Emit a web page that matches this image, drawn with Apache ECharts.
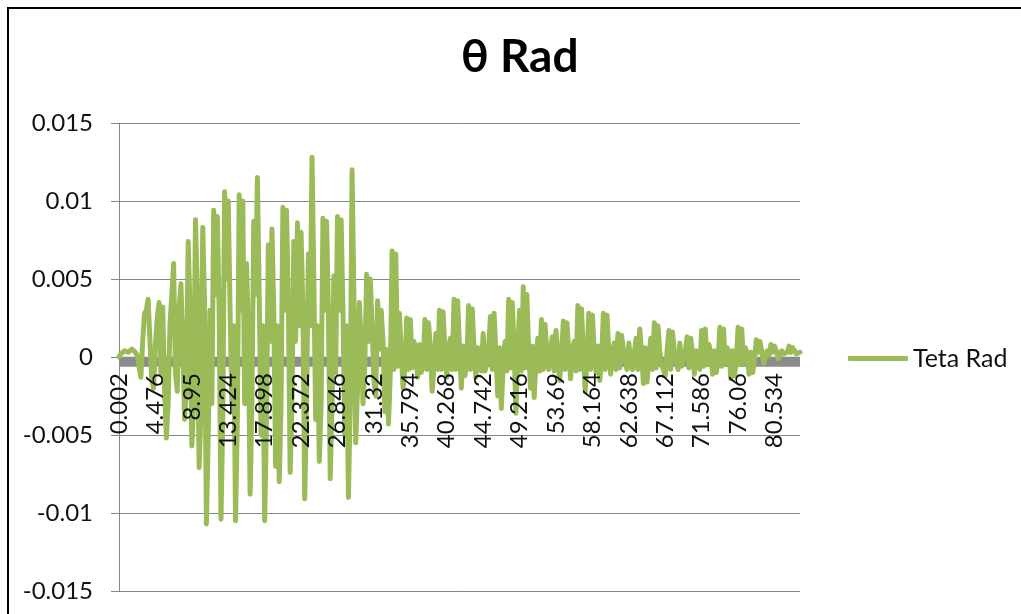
<!DOCTYPE html>
<html>
<head>
<meta charset="utf-8">
<title>θ Rad</title>
<script src="https://cdn.jsdelivr.net/npm/echarts@6/dist/echarts.min.js"></script>
<style>
  html, body { margin: 0; padding: 0; background: #fff; }
  #chart { width: 1021px; height: 614px; }
</style>
</head>
<body>
<div id="chart"></div>
<script>
// Sampling of the time axis (s): first sample and spacing between samples
const timeStart = 0.002;
const timeStep = 0.2237;

// Pitch angle θ in radians, one value per sample
const thetaRad = [
  0.0000, 0.0002, 0.0003, 0.0004, 0.0004, 0.0003, 0.0003, 0.0005, 0.0005, 0.0003,
  0.0001, -0.0006, -0.0013, 0.0010, 0.0028, 0.0030, 0.0037, 0.0010, -0.0015, -0.0020,
  0.0008, 0.0025, 0.0035, -0.0010, 0.0032, -0.0020, -0.0052, -0.0030, 0.0021, 0.0040,
  0.0060, -0.0010, -0.0022, 0.0030, 0.0047, 0.0010, -0.0040, -0.0020, 0.0074, 0.0030,
  -0.0057, -0.0030, 0.0088, 0.0040, -0.0071, -0.0035, 0.0083, 0.0035, -0.0107, -0.0050,
  0.0030, -0.0030, 0.0094, 0.0040, 0.0090, 0.0030, -0.0104, -0.0040, 0.0106, 0.0050,
  0.0100, 0.0030, -0.0030, 0.0020, -0.0105, -0.0040, 0.0104, 0.0030, 0.0100, -0.0030,
  0.0060, 0.0020, -0.0088, -0.0030, 0.0087, 0.0040, 0.0115, 0.0040, -0.0050, 0.0020,
  -0.0105, -0.0040, 0.0072, 0.0010, 0.0082, 0.0030, -0.0070, 0.0020, -0.0080, -0.0030,
  0.0096, 0.0030, 0.0094, 0.0035, -0.0074, -0.0030, 0.0074, 0.0010, 0.0086, 0.0020,
  0.0080, 0.0030, -0.0091, -0.0030, 0.0066, 0.0020, 0.0128, 0.0050, -0.0040, 0.0020,
  -0.0067, -0.0030, 0.0089, 0.0030, 0.0087, 0.0030, -0.0078, -0.0030, 0.0052, -0.0010,
  0.0090, 0.0030, 0.0088, 0.0030, -0.0050, 0.0020, -0.0090, -0.0030, 0.0120, 0.0040,
  -0.0055, -0.0020, 0.0035, 0.0010, -0.0030, -0.0005, 0.0053, 0.0010, 0.0050, 0.0020,
  -0.0015, -0.0025, 0.0036, 0.0005, 0.0030, 0.0010, -0.0035, 0.0005, -0.0043, -0.0010,
  0.0068, -0.0008, 0.0066, -0.0006, 0.0028, 0.0003, -0.0020, -0.0008, 0.0025, -0.0008,
  0.0024, -0.0007, 0.0010, 0.0004, -0.0013, 0.0008, -0.0010, -0.0004, 0.0024, -0.0008,
  0.0022, 0.0006, -0.0022, -0.0006, 0.0015, -0.0008, 0.0030, -0.0008, 0.0029, 0.0004,
  -0.0013, 0.0006, 0.0012, -0.0008, 0.0037, -0.0008, 0.0036, 0.0006, -0.0020, 0.0007,
  -0.0012, -0.0004, 0.0033, -0.0008, 0.0031, 0.0005, -0.0013, 0.0006, 0.0005, -0.0009,
  0.0015, -0.0009, -0.0005, 0.0007, 0.0026, -0.0008, 0.0028, 0.0003, -0.0025, 0.0006,
  -0.0033, -0.0004, 0.0010, -0.0009, 0.0037, -0.0007, 0.0035, 0.0005, -0.0036, 0.0006,
  0.0030, -0.0009, 0.0045, -0.0007, 0.0040, 0.0004, -0.0020, 0.0007, -0.0026, -0.0003,
  0.0012, -0.0009, 0.0024, -0.0008, 0.0021, 0.0002, -0.0008, 0.0006, 0.0013, -0.0009,
  0.0017, 0.0003, -0.0015, -0.0002, 0.0023, -0.0008, 0.0022, 0.0004, -0.0014, 0.0005,
  0.0010, -0.0009, 0.0033, -0.0008, 0.0031, 0.0003, -0.0022, -0.0002, 0.0028, -0.0008,
  0.0027, 0.0004, -0.0010, 0.0007, -0.0015, -0.0003, 0.0028, -0.0008, 0.0027, 0.0004,
  -0.0011, 0.0002, 0.0009, -0.0008, 0.0015, -0.0007, 0.0014, 0.0005, -0.0003, -0.0008,
  0.0009, -0.0002, -0.0008, 0.0003, 0.0012, -0.0008, 0.0018, 0.0003, -0.0017, 0.0006,
  -0.0016, -0.0002, 0.0012, -0.0008, 0.0022, -0.0007, 0.0020, 0.0004, -0.0005, -0.0008,
  -0.0012, 0.0004, 0.0017, -0.0008, 0.0016, 0.0003, -0.0003, -0.0008, 0.0009, -0.0006,
  -0.0006, 0.0004, 0.0013, -0.0007, 0.0012, 0.0002, -0.0011, 0.0004, 0.0005, -0.0008,
  0.0017, -0.0006, 0.0018, -0.0005, 0.0008, 0.0002, -0.0011, 0.0004, -0.0010, -0.0003,
  0.0019, -0.0006, 0.0018, -0.0004, 0.0006, 0.0003, -0.0014, 0.0004, -0.0012, -0.0003,
  0.0019, -0.0005, 0.0018, -0.0004, 0.0006, 0.0002, -0.0011, 0.0003, -0.0010, -0.0002,
  0.0011, 0.0003, 0.0010, 0.0004, -0.0004, 0.0000, 0.0004, 0.0001, 0.0008, 0.0003,
  0.0007, 0.0004, -0.0001, 0.0001, 0.0004, 0.0002, 0.0001, 0.0003, 0.0007, 0.0003,
  0.0006, 0.0004, 0.0002, 0.0002, 0.0003
];

// Second trace (grey), sampled at the labelled times and at the final time
const baseTimes = [0.002, 4.476, 8.95, 13.424, 17.898, 22.372, 26.846, 31.32, 35.794, 40.268,
  44.742, 49.216, 53.69, 58.164, 62.638, 67.112, 71.586, 76.06, 80.534, 83.666];
const baseValues = [-0.0003, -0.0003, -0.0003, -0.0003, -0.0003, -0.0003, -0.0003, -0.0003, -0.0003, -0.0003,
  -0.0003, -0.0003, -0.0003, -0.0003, -0.0003, -0.0003, -0.0003, -0.0003, -0.0003, -0.0003];

// Value axis range and step
const yMin = -0.015;
const yMax = 0.015;
const yStep = 0.005;

// Category labels: the time of each sample, printed with up to 3 decimals
const categories = thetaRad.map((_, i) => String(parseFloat((timeStart + i * timeStep).toFixed(3))));
const tFirst = parseFloat(categories[0]);
const tLast = parseFloat(categories[categories.length - 1]);

const FONT = 'Lato, "Open Sans", sans-serif';
const GRID_GREY = '#868686';

// Plot box in pixels; the category axis is lifted from the bottom edge to the zero line
const PLOT_TOP = 123;
const PLOT_BOTTOM = 23;
const PLOT_HEIGHT = 614 - PLOT_TOP - PLOT_BOTTOM;
const zeroLift = PLOT_HEIGHT * (0 - yMin) / (yMax - yMin);

const chart = echarts.init(document.getElementById('chart'), null, { renderer: 'canvas' });

chart.setOption({
  backgroundColor: '#ffffff',
  animation: false,
  title: {
    text: 'θ Rad',
    left: 456,
    top: 29,
    textStyle: { fontFamily: FONT, fontSize: 46, fontWeight: 'bold', color: '#000' }
  },
  legend: {
    data: ['Teta Rad'],
    left: 843,
    top: 341,
    icon: 'roundRect',
    itemWidth: 60,
    itemHeight: 5,
    itemGap: 5,
    textStyle: { fontFamily: FONT, fontSize: 25, color: '#111' }
  },
  grid: {
    left: 119, right: 221, top: PLOT_TOP, bottom: PLOT_BOTTOM,
    containLabel: false,
    outerBoundsMode: 'none'
  },
  xAxis: [
    {
      type: 'category',
      data: categories,
      boundaryGap: false,
      position: 'bottom',
      offset: -zeroLift,
      z: 10,
      axisLine: { show: false, onZero: false },
      axisTick: { show: false },
      axisLabel: {
        interval: 19,
        rotate: 90,
        margin: 16,
        fontFamily: FONT,
        fontSize: 24,
        color: '#111'
      },
      splitLine: { show: false }
    },
    {
      type: 'value',
      min: tFirst,
      max: tLast,
      show: false,
      position: 'bottom',
      axisLine: { onZero: false },
      splitLine: { show: false }
    }
  ],
  yAxis: {
    type: 'value',
    min: yMin,
    max: yMax,
    interval: yStep,
    axisLine: { show: true, lineStyle: { color: GRID_GREY, width: 1 } },
    axisTick: { show: true, length: 8, lineStyle: { color: GRID_GREY } },
    axisLabel: {
      margin: 26,
      fontFamily: FONT,
      fontSize: 24,
      color: '#111',
      formatter: v => String(parseFloat(v.toFixed(3)))
    },
    splitLine: { show: true, lineStyle: { color: GRID_GREY, width: 1 } }
  },
  series: [
    {
      name: 'base',
      type: 'line',
      xAxisIndex: 1,
      data: baseTimes.map((t, i) => [t, baseValues[i]]),
      showSymbol: false,
      silent: true,
      lineStyle: { color: '#8c8c8c', width: 10 },
      itemStyle: { color: '#8c8c8c' },
      z: 2
    },
    {
      name: 'Teta Rad',
      type: 'line',
      xAxisIndex: 0,
      data: thetaRad,
      showSymbol: false,
      lineStyle: { color: '#9BBB59', width: 5, cap: 'round', join: 'round' },
      itemStyle: { color: '#9BBB59' },
      z: 3
    }
  ],
  graphic: [
    {
      type: 'rect',
      shape: { x: 8, y: 8, width: 1040, height: 640 },
      style: { fill: null, stroke: '#000', lineWidth: 2 },
      silent: true,
      z: 100
    }
  ]
});
</script>
</body>
</html>
